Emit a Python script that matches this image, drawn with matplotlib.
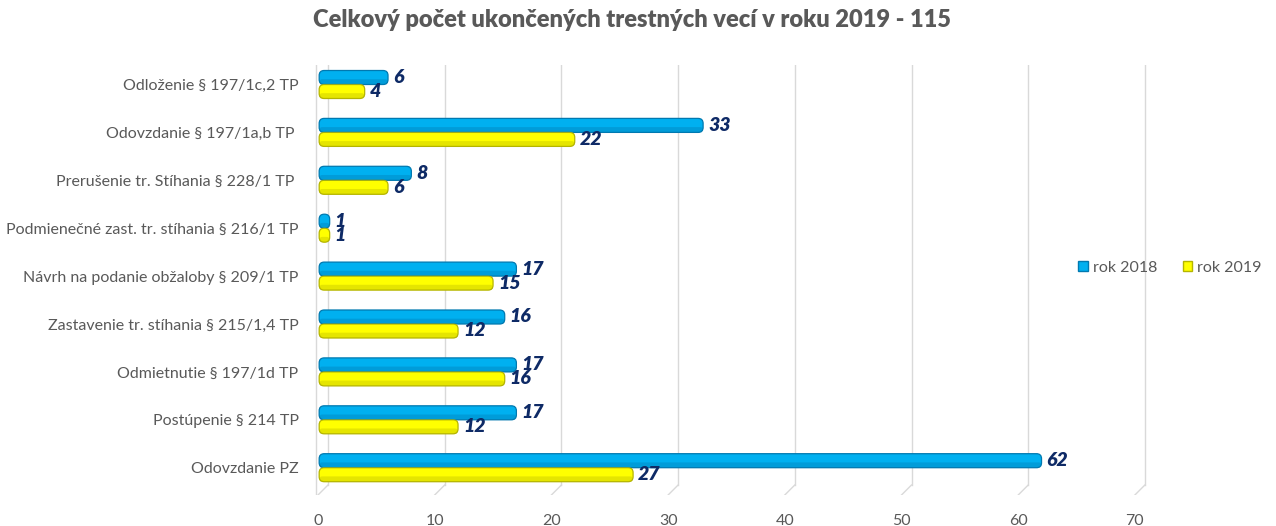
import matplotlib
matplotlib.use("Agg")
from matplotlib import pyplot as plt
from matplotlib.patches import FancyBboxPatch
import numpy as np

plt.rcParams['font.family'] = ['Lato', 'DejaVu Sans']

kategorie = [
    "Odloženie § 197/1c,2 TP",
    "Odovzdanie § 197/1a,b TP ",
    "Prerušenie tr. Stíhania § 228/1 TP ",
    "Podmienečné zast. tr. stíhania § 216/1 TP",
    "Návrh na podanie obžaloby § 209/1 TP",
    "Zastavenie tr. stíhania § 215/1,4 TP",
    "Odmietnutie § 197/1d TP",
    "Postúpenie § 214 TP",
    "Odovzdanie PZ",
]
rok2018 = [6, 33, 8, 1, 17, 16, 17, 17, 62]
rok2019 = [4, 22, 6, 1, 15, 12, 16, 12, 27]
nazwy = ["rok 2018", "rok 2019"]
title = "Celkový počet ukončených trestných vecí v roku 2019 - 115"
xticks = [0, 10, 20, 30, 40, 50, 60, 70]

modra = "#00B0F0"
modra_hrana = "#0079B0"
zlta = "#FFFF00"
zlta_hrana = "#B5B500"
popis = "#0E2A66"
seda = "#595959"
mriezka = "#D9D9D9"

W, H = 1276, 526
fig = plt.figure(figsize=(W / 100, H / 100), dpi=100)

# axes in pixel coordinates: x from 300 to 1150, y from 65 to 495
px_per_x = 11.67
left_px, right_px = 300, 1150
top_px, bot_px = 65, 495
ax = fig.add_axes([left_px / W, 1 - bot_px / H, (right_px - left_px) / W, (bot_px - top_px) / H])
x0_px = 318
ax.set_xlim((left_px - x0_px) / px_per_x, (right_px - x0_px) / px_per_x)
px_per_y = 47.9
y_top = -(84.5 - top_px) / px_per_y
y_bot = y_top + (bot_px - top_px) / px_per_y
ax.set_ylim(y_bot, y_top)
for s in ax.spines.values():
    s.set_visible(False)

# 3D-like grid: back wall lines plus slanted floor lines
shift = 10 / px_per_x
y_back = y_top + (485 - top_px) / px_per_y
for v in xticks:
    ax.plot([v + shift, v + shift], [y_top, y_back], color=mriezka, lw=1, zorder=0)
    ax.plot([v + shift, v], [y_back, y_bot], color=mriezka, lw=1, zorder=0)
ax.plot([-2 / px_per_x, -2 / px_per_x], [y_top, y_bot], color=mriezka, lw=1, zorder=0)

y = np.arange(len(kategorie))
h = 14 / px_per_y
b1 = ax.barh(y - h / 2, rok2018, height=h, color=modra)
b2 = ax.barh(y + h / 2, rok2019, height=h, color=zlta)

r = 5 / px_per_x
aspect = (5 / px_per_y) / r
for bars, vals, c, ec in [(b1, rok2018, modra, modra_hrana), (b2, rok2019, zlta, zlta_hrana)]:
    for p, val in zip(bars, vals):
        p.set_visible(False)
        x, yy, w, hh = p.get_x(), p.get_y(), p.get_width(), p.get_height()
        ax.add_patch(FancyBboxPatch((x + 0.1, yy), w - 0.1, hh,
                                    boxstyle="round,pad=0,rounding_size=%f" % min(r, w / 2),
                                    mutation_aspect=aspect, fc=c, ec=ec, lw=0.9, zorder=3))
        # darker lower band for a cylinder look
        ax.add_patch(FancyBboxPatch((x + 0.1, yy + hh * 0.62), w - 0.1, hh * 0.38,
                                    boxstyle="round,pad=0,rounding_size=%f" % min(r * 0.6, w / 2),
                                    mutation_aspect=aspect, fc=ec, ec="none", alpha=0.35, zorder=4))
        ax.text(w + 5 / px_per_x, yy + hh / 2, str(val),
                ha="left", va="center", fontsize=14, fontweight="heavy", style="italic",
                color=popis, zorder=5)

ax.set_yticks(y)
ax.set_yticklabels(kategorie, fontsize=11.5, color=seda)
ax.set_xticks(xticks)
ax.set_xticklabels([str(t) for t in xticks], fontsize=11.5, color=seda)
ax.tick_params(axis="both", length=0)
ax.tick_params(axis="y", pad=1)
ax.tick_params(axis="x", pad=14)

fig.text(632 / W, 1 - 20 / H, title, ha="center", va="center", fontsize=17,
         fontweight="heavy", color=seda)

handles = [plt.Rectangle((0, 0), 1, 1, fc=modra, ec=modra_hrana),
           plt.Rectangle((0, 0), 1, 1, fc=zlta, ec=zlta_hrana)]
leg = fig.legend(handles, nazwy, loc="center", bbox_to_anchor=(1170 / W, 1 - 268 / H),
                 ncol=2, frameon=False, fontsize=11.5, handlelength=0.6, handleheight=0.6,
                 handletextpad=0.3, columnspacing=1.6)
for t in leg.get_texts():
    t.set_color(seda)

fig.savefig("out.png", dpi=100)
